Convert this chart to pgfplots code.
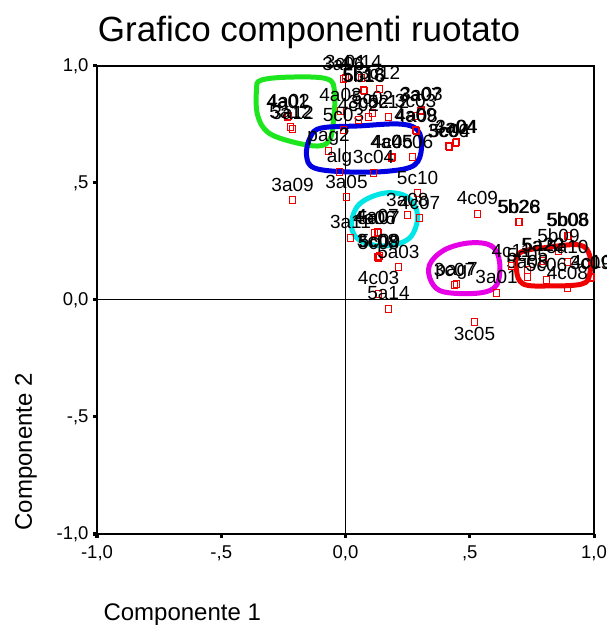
\documentclass[border=0pt]{standalone}
\usepackage{pgfplots}
\pgfplotsset{compat=1.18}
\usepackage{fontspec}
\setmainfont{Liberation Sans}
\definecolor{lgreen}{RGB}{30,230,30}
\definecolor{lblue}{RGB}{0,0,225}
\definecolor{lcyan}{RGB}{0,230,230}
\definecolor{lmag}{RGB}{230,0,230}
\definecolor{lred}{RGB}{240,0,0}
\begin{document}
\begin{tikzpicture}
\useasboundingbox (0,0) rectangle (607bp,628bp);
\begin{axis}[
  at={(97bp,94bp)}, anchor=south west,
  scale only axis, width=497bp, height=468bp,
  xmin=-1, xmax=1, ymin=-1, ymax=1,
  clip=false,
  axis line style={line width=1.4bp, black},
  xtick={-1,-0.5,0,0.5,1},
  xticklabels={{-1,0},{-,5},{0,0},{,5},{1,0}},
  ytick={-1,-0.5,0,0.5,1},
  yticklabels={{-1,0},{-,5},{0,0},{,5},{1,0}},
  xtick pos=bottom, ytick pos=left,
  tick align=outside, major tick length=4bp,
  tick style={line width=3bp, black},
  ticklabel style={font=\fontsize{18.5bp}{20bp}\selectfont},
  yticklabel style={xshift=-1bp},
  xticklabel style={yshift=-4bp},
  extra x ticks={0}, extra x tick labels={},
  extra y ticks={0}, extra y tick labels={},
  extra tick style={grid=major, major tick length=0pt, grid style={black, line width=1bp}},
  title={Grafico componenti ruotato},
  title style={at={(rel axis cs:0.4266,1)}, anchor=base, yshift=19bp, font=\fontsize{35bp}{40bp}\selectfont},
  xlabel={Componente 1},
  xlabel style={at={(rel axis cs:0.006,-0.1838)}, anchor=base west, font=\fontsize{24bp}{28bp}\selectfont},
  ylabel={Componente 2},
  ylabel style={at={(rel axis cs:-0.1308,0)}, anchor=base west, rotate=0, font=\fontsize{24bp}{28bp}\selectfont},
]
\addplot[only marks, mark=square, mark size=3.2bp, mark options={lred, line width=1bp},
  nodes near coords, point meta=explicit symbolic,
  every node near coord/.append style={anchor=base, inner sep=0pt, yshift=9bp, text=black, font=\fontsize{19bp}{22bp}\selectfont}]
table[meta=label] {
x y label
0.000 0.949 3c01
-0.008 0.944 3a06
0.064 0.949 4c14
0.076 0.893 5b16
0.072 0.897 5b18
-0.233 0.782 4a01
-0.229 0.786 4a02
-0.221 0.739 5a12
-0.213 0.731 3a12
-0.020 0.808 4a03
-0.008 0.726 5c03
0.093 0.782 3c02
0.109 0.799 5c02
0.052 0.769 4c02
0.137 0.902 3c12
0.173 0.782 5c12
0.306 0.812 3a03
0.302 0.808 3a07
0.282 0.786 3c03
0.282 0.726 4a09
0.286 0.722 4a08
0.419 0.654 5c04
0.414 0.658 3c06
0.443 0.671 4a04
0.447 0.675 3a04
0.185 0.607 4a05
0.189 0.611 4c05
0.270 0.611 4c06
-0.068 0.637 pag2
-0.024 0.547 alg
0.113 0.543 3c04
0.290 0.457 5c10
-0.213 0.427 3a09
0.004 0.440 3a05
0.249 0.363 3a08
0.298 0.350 4c07
0.531 0.368 4c09
0.020 0.265 3a11
0.129 0.291 4a07
0.117 0.286 4a06
0.133 0.286 5a07
0.133 0.179 5c08
0.129 0.184 3c08
0.137 0.188 5c09
0.213 0.141 5a03
0.133 0.026 4c03
0.173 -0.038 5a14
0.447 0.068 pag7
0.439 0.064 3c07
0.608 0.030 3a01
0.696 0.333 5b26
0.700 0.333 5b28
0.897 0.274 5b06
0.893 0.274 5b08
0.857 0.209 5b09
0.893 0.162 5a10
0.793 0.167 5a20
0.797 0.167 5a22
0.732 0.128 5c05
0.732 0.098 5a05
0.809 0.085 5c06
0.893 0.051 4c08
0.986 0.094 3c09
0.990 0.098 4c10
0.668 0.145 4c11
};
\addplot[only marks, mark=square, mark size=3.2bp, mark options={lred, line width=1bp},
  nodes near coords, point meta=explicit symbolic,
  every node near coord/.append style={anchor=north, inner sep=0pt, yshift=-5bp, text=black, font=\fontsize{19bp}{22bp}\selectfont}]
table[meta=label] {
x y label
0.519 -0.094 3c05
};
% hand-drawn loops
\addplot[lgreen, line width=5bp, smooth cycle, tension=0.6] coordinates {
(-0.338,0.940) (-0.205,0.953) (-0.072,0.944) (-0.044,0.889) (-0.048,0.769) (-0.064,0.684)
(-0.113,0.658) (-0.225,0.679) (-0.314,0.718) (-0.354,0.791) (-0.358,0.897)};
\addplot[lblue, line width=5bp, smooth cycle, tension=0.6] coordinates {
(-0.097,0.735) (0.056,0.744) (0.217,0.752) (0.290,0.726) (0.306,0.650) (0.278,0.577)
(0.177,0.551) (0.016,0.547) (-0.125,0.564) (-0.157,0.620) (-0.141,0.697)};
\addplot[lcyan, line width=5bp, smooth cycle, tension=0.6] coordinates {
(0.157,0.457) (0.249,0.440) (0.290,0.363) (0.258,0.265) (0.157,0.231) (0.056,0.256)
(0.024,0.321) (0.056,0.410)};
\addplot[lmag, line width=5bp, smooth cycle, tension=0.6] coordinates {
(0.398,0.214) (0.499,0.244) (0.588,0.231) (0.620,0.162) (0.608,0.064) (0.539,0.030)
(0.398,0.034) (0.346,0.077) (0.338,0.150)};
\addplot[lred, line width=5bp, smooth cycle, tension=0.6] coordinates {
(0.700,0.201) (0.821,0.226) (0.942,0.235) (0.982,0.192) (0.982,0.107) (0.950,0.068)
(0.821,0.060) (0.716,0.068) (0.688,0.128)};
\end{axis}
\end{tikzpicture}
\end{document}
